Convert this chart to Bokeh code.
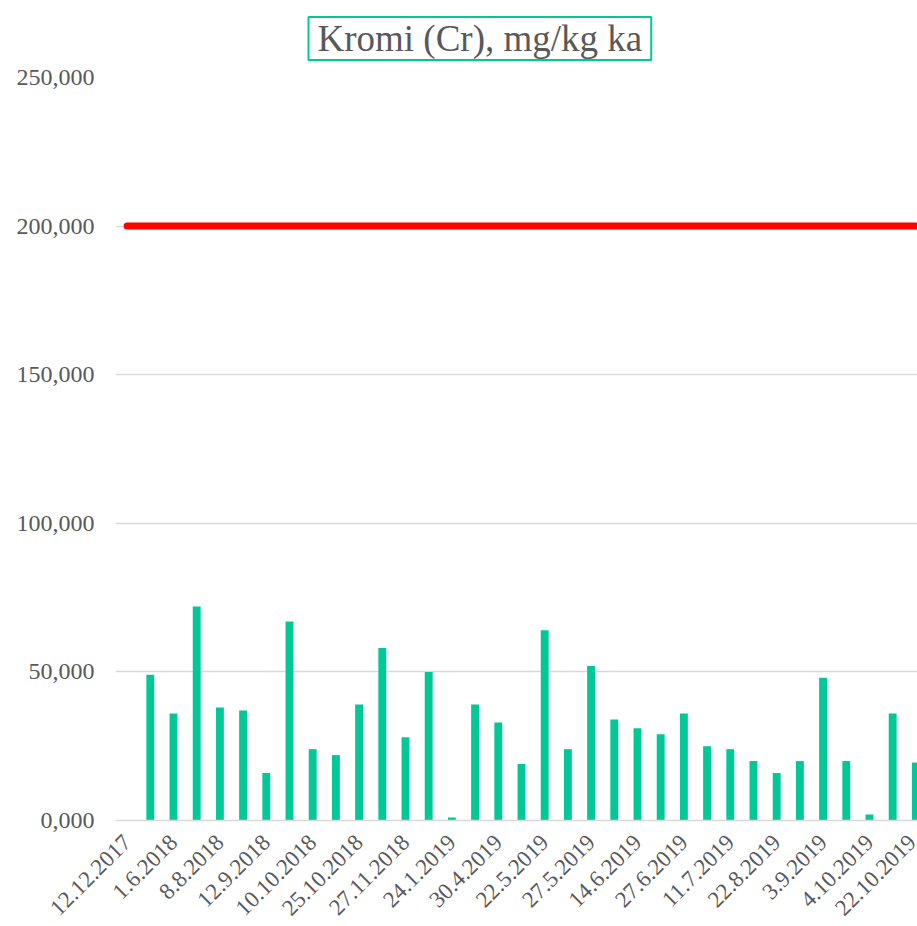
from bokeh.plotting import figure
from bokeh.models import FixedTicker, Range1d
from bokeh.embed import file_html
from bokeh.resources import INLINE

TITLE = "Kromi (Cr), mg/kg ka"

TICK_LABELS = ["12.12.2017", "1.6.2018", "8.8.2018", "12.9.2018", "10.10.2018",
               "25.10.2018", "27.11.2018", "24.1.2019", "30.4.2019", "22.5.2019",
               "27.5.2019", "14.6.2019", "27.6.2019", "11.7.2019", "22.8.2019",
               "3.9.2019", "4.10.2019", "22.10.2019"]

VALUES = [None, 49, 36, 72, 38, 37, 16, 67, 24, 22, 39,
          58, 28, 50, 1, 39, 33, 19, 64, 24, 52,
          34, 31, 29, 36, 25, 24, 20, 16, 20, 48,
          20, 2, 36, 19.5]

LIMIT = 200

Y_TICKS = [0, 50, 100, 150, 200, 250]
Y_TICK_LABELS = ["0,000", "50,000", "100,000", "150,000", "200,000", "250,000"]

BAR_COLOR = "#00C896"
TEXT_COLOR = "#595959"
GRID_COLOR = "#D9D9D9"
FONT = "Liberation Serif"

n = len(VALUES)
bar_x = [i for i, v in enumerate(VALUES) if v is not None]
bar_top = [v for v in VALUES if v is not None]
line_x = list(range(n))
line_y = [LIMIT for _ in range(n)]
tick_pos = list(range(0, n, 2))

p = figure(width=917, height=926, output_backend="svg", toolbar_location=None,
           x_range=Range1d(-0.5, n - 1 + 0.07), y_range=Range1d(0, 250),
           min_border_left=115, min_border_top=77, min_border_right=0,
           min_border_bottom=106)

p.outline_line_color = None
p.background_fill_color = "white"
p.border_fill_color = "white"

# title
p.title.text = TITLE
p.title.align = "left"
p.title.vertical_align = "top"
p.title.text_font = FONT
p.title.text_font_size = "37px"
p.title.text_font_style = "normal"
p.title.text_color = TEXT_COLOR
p.title.border_line_color = BAR_COLOR
p.title.border_line_width = 2
p.title.offset = 193
p.title.standoff = 31
try:
    p.title.padding = (9, 1)
except Exception:
    pass

# grid
p.xgrid.grid_line_color = None
p.ygrid.ticker = FixedTicker(ticks=Y_TICKS)
p.ygrid.grid_line_color = GRID_COLOR
p.ygrid.grid_line_width = 1.5

# y axis
p.yaxis.ticker = FixedTicker(ticks=Y_TICKS)
p.yaxis.major_label_overrides = {t: l for t, l in zip(Y_TICKS, Y_TICK_LABELS)}
p.yaxis.axis_line_color = None
p.yaxis.major_tick_line_color = None
p.yaxis.minor_tick_line_color = None
p.yaxis.major_tick_out = 0
p.yaxis.major_label_standoff = 21
p.yaxis.major_label_text_font = FONT
p.yaxis.major_label_text_font_size = "24px"
p.yaxis.major_label_text_color = TEXT_COLOR

# x axis
p.xaxis.ticker = FixedTicker(ticks=tick_pos)
p.xaxis.major_label_overrides = {t: l for t, l in zip(tick_pos, TICK_LABELS)}
p.xaxis.axis_line_color = GRID_COLOR
p.xaxis.axis_line_width = 1.5
p.xaxis.major_tick_line_color = None
p.xaxis.minor_tick_line_color = None
p.xaxis.major_tick_out = 0
p.xaxis.major_label_standoff = 18
p.xaxis.major_label_orientation = 0.785398
p.xaxis.major_label_text_font = FONT
p.xaxis.major_label_text_font_size = "23px"
p.xaxis.major_label_text_color = TEXT_COLOR

p.vbar(x=bar_x, top=bar_top, bottom=0, width=0.34, fill_color=BAR_COLOR,
       line_color=None)
p.line(x=line_x, y=line_y, line_color="#FF0000", line_width=7, line_cap="round")

open("out.html", "w").write(file_html(p, INLINE))
